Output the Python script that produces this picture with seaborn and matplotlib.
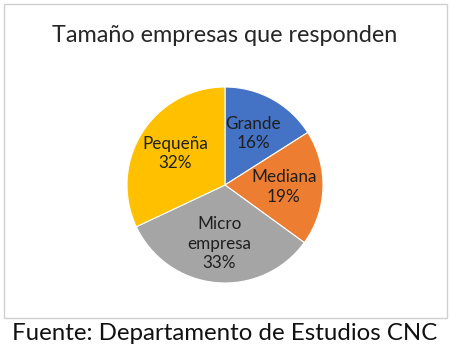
import matplotlib
matplotlib.use('Agg')
import matplotlib.pyplot as plt
from matplotlib.patches import Rectangle
import seaborn as sns

# Data
categories = ['Grande', 'Mediana', 'Micro\nempresa', 'Pequeña']
shares = [16, 19, 33, 32]
colors = ['#4472C4', '#ED7D31', '#A5A5A5', '#FFC000']
title = 'Tamaño empresas que responden'
source = 'Fuente: Departamento de Estudios CNC'

sns.set_theme(style='white')
plt.rcParams['font.family'] = ['Lato', 'DejaVu Sans']

fig = plt.figure(figsize=(4.5, 3.52), dpi=100)

# chart frame
fig.patches.append(Rectangle((4 / 450, 1 - 318 / 352), 443 / 450, 314 / 352,
                             transform=fig.transFigure, fill=False,
                             edgecolor='#D0D0D0', linewidth=1.0))

ax = fig.add_axes([127 / 450, 1 - 283 / 352, 196 / 450, 196 / 352])
labels = [f'{c}\n{v}%' for c, v in zip(categories, shares)]
wedges, texts = ax.pie(shares, colors=colors, startangle=90, counterclock=False,
                       labels=labels, labeldistance=0.6,
                       wedgeprops=dict(edgecolor='white', linewidth=0.8),
                       textprops=dict(fontsize=12.3, color='#1f1f1f',
                                      ha='center', va='center',
                                      linespacing=1.3))
ax.set_xlim(-1, 1)
ax.set_ylim(-1, 1)
ax.set_aspect('equal')

fig.text(0.5, 1 - 36 / 352, title, ha='center', va='center',
         fontsize=16.8, color='#262626')
fig.text(0.5, 1 - 334 / 352, source, ha='center', va='center',
         fontsize=17.3, color='#111111')

fig.savefig('out.png', dpi=100)
